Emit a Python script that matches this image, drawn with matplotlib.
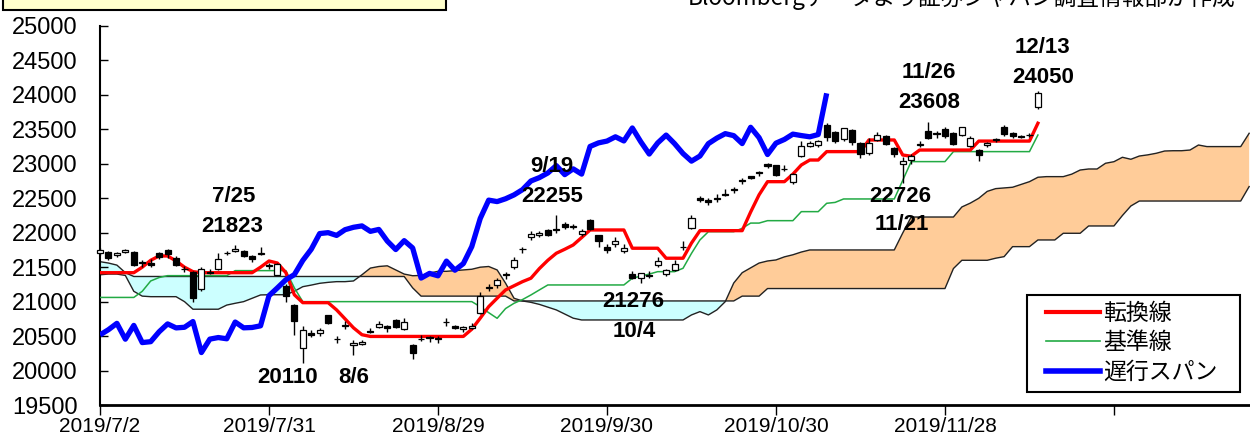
import matplotlib
matplotlib.use('Agg')
import matplotlib.pyplot as plt
import numpy as np
from matplotlib.patches import Rectangle
from matplotlib.lines import Line2D

plt.rcParams['font.family'] = ['Liberation Sans', 'Noto Sans CJK JP', 'DejaVu Sans']

# 日経平均 日足（2019/7/2〜2019/12/13、営業日インデックス 0〜111）
opens = [21700, 21720, 21680, 21720, 21720, 21580, 21560, 21700, 21750, 21640,
         21480, 21430, 21180, 21430, 21480, 21700, 21740, 21740, 21660, 21690,
         21530, 21390, 21230, 20950, 20330, 20540, 20550, 20800, 20460, 20640,
         20370, 20380, 20580, 20630, 20640, 20740, 20600, 20370, 20460, 20480,
         20470, 20700, 20640, 20600, 20620, 20840, 21210, 21240, 21400, 21500,
         21760, 21940, 21960, 22040, 22060, 22120, 22090, 21980, 22180, 21960,
         21790, 21840, 21740, 21400, 21340, 21390, 21530, 21400, 21460, 21800,
         22070, 22500, 22480, 22500, 22560, 22640, 22760, 22820, 22880, 23000,
         22980, 22930, 22740, 23120, 23260, 23280, 23560, 23460, 23360, 23490,
         23300, 23160, 23350, 23400, 23230, 23000, 23050, 23270, 23480, 23450,
         23500, 23450, 23420, 23260, 23200, 23280, 23340, 23540, 23440, 23400,
         23420, 23830]
highs = [21784, 21730, 21720, 21760, 21730, 21600, 21620, 21720, 21760, 21660,
         21520, 21440, 21500, 21470, 21700, 21730, 21823, 21750, 21680, 21790,
         21560, 21560, 21250, 20960, 20650, 20590, 20620, 20810, 20500, 20720,
         20450, 20440, 20620, 20720, 20660, 20750, 20760, 20390, 20520, 20500,
         20500, 20760, 20660, 20640, 20690, 21140, 21250, 21350, 21430, 21650,
         21800, 22020, 22020, 22060, 22255, 22150, 22130, 22050, 22200, 21970,
         21830, 21940, 21830, 21450, 21420, 21450, 21650, 21470, 21610, 21880,
         22260, 22530, 22500, 22560, 22640, 22660, 22800, 22830, 22900, 23010,
         22990, 22980, 22870, 23330, 23330, 23340, 23591, 23480, 23520, 23500,
         23320, 23380, 23460, 23420, 23250, 23100, 23140, 23330, 23608, 23470,
         23540, 23460, 23540, 23400, 23220, 23320, 23370, 23560, 23460, 23420,
         23440, 24050]
lows = [21680, 21600, 21650, 21700, 21510, 21500, 21500, 21620, 21640, 21510,
        21430, 21000, 21160, 21400, 21460, 21680, 21720, 21650, 21580, 21680,
        21480, 21380, 21000, 20514, 20110, 20480, 20500, 20680, 20400, 20600,
        20230, 20370, 20540, 20620, 20560, 20620, 20590, 20173, 20430, 20420,
        20400, 20650, 20600, 20560, 20600, 20820, 21150, 21200, 21330, 21480,
        21700, 21900, 21940, 21950, 22000, 22050, 22050, 21950, 22040, 21800,
        21700, 21800, 21700, 21330, 21276, 21340, 21500, 21370, 21440, 21750,
        22060, 22440, 22400, 22450, 22530, 22580, 22700, 22780, 22820, 22940,
        22830, 22900, 22710, 23100, 23240, 23250, 23330, 23300, 23330, 23280,
        23085, 23130, 23330, 23270, 23100, 22726, 23000, 23250, 23360, 23380,
        23380, 23270, 23410, 23240, 23044, 23250, 23310, 23400, 23380, 23370,
        23390, 23800]
closes = [21754, 21638, 21702, 21746, 21534, 21565, 21533, 21643, 21686, 21535,
          21469, 21046, 21467, 21417, 21621, 21710, 21757, 21658, 21617, 21709,
          21522, 21541, 21087, 20720, 20585, 20517, 20593, 20685, 20455, 20655,
          20406, 20419, 20563, 20677, 20619, 20628, 20711, 20261, 20456, 20479,
          20461, 20704, 20620, 20625, 20649, 21086, 21200, 21318, 21392, 21598,
          21760, 21988, 22001, 21961, 22044, 22079, 22099, 22020, 22048, 21879,
          21756, 21885, 21779, 21342, 21410, 21375, 21588, 21456, 21552, 21799,
          22207, 22473, 22452, 22493, 22549, 22625, 22751, 22800, 22867, 22974,
          22843, 22927, 22851, 23252, 23304, 23330, 23392, 23332, 23520, 23320,
          23142, 23303, 23417, 23293, 23149, 23039, 23113, 23293, 23373, 23438,
          23409, 23294, 23530, 23380, 23135, 23300, 23354, 23431, 23410, 23392,
          23425, 24023]

# 転換線・基準線（0〜111）
tenkan = [21420] * 5 + [21500, 21600, 21663, 21663, 21590, 21500, 21435] + [21420] * 7 + \
         [21500, 21590, 21560, 21420, 21100] + [20985] * 4 + [20880, 20750, 20620, 20520] + \
         [20495] * 12 + [20600, 20760, 20927, 21050, 21170, 21230, 21290, 21340, 21480,
                         21600, 21702, 21760, 21822, 21930] + \
         [22040] * 5 + [21775] * 4 + [21630] * 3 + [21850] + [22030] * 6 + [22300, 22550] + \
         [22741] * 3 + [22850, 22983] + [23055] * 2 + [23177] * 5 + [23346] * 4 + \
         [23128, 23110] + [23200] * 7 + [23330] * 7 + [23589]
kijun = [21061] * 5 + [21150, 21300, 21350] + [21377] * 8 + [21450] * 7 + [21200] + \
        [21000] * 21 + [20927, 20840, 20758, 20900, 20976, 21030, 21097, 21170] + \
        [21242] * 10 + [21340, 21370, 21400] + [21435] * 3 + [21484, 21700, 21895] + \
        [22015] * 4 + [22064] + [22140] * 2 + [22175] * 4 + [22306] * 3 + [22427, 22440] + \
        [22490] * 7 + [22760] + [23032] * 5 + [23177] * 10 + [23418]

# 先行スパン（0〜136）
span_a = [21390, 21400, 21400, 21380, 21150, 21080, 21072, 21072, 21072, 21072,
          21000, 20890, 20890, 20890, 20890, 20950, 20976, 21000, 21048, 21097,
          21100, 21100, 21100, 21150, 21217, 21240, 21266, 21280, 21290, 21290,
          21300, 21390, 21487, 21510, 21520, 21460, 21400, 21376, 21380, 21414,
          21440, 21440, 21450, 21460, 21470, 21500, 21510, 21460, 21267, 21049,
          21010, 20990, 20960, 20920, 20880, 20820, 20760] + [20734] * 13 + \
         [20807, 20855, 20807, 20880, 21000, 21270, 21420, 21490, 21560, 21590,
          21605, 21650, 21680, 21720] + [21750] * 11 + [21996] + [22228] * 6 + \
         [22374, 22430, 22500, 22600, 22640, 22650, 22660, 22700, 22741, 22805,
          22814, 22814, 22814, 22850, 22910, 22925, 22925, 23008, 23031, 23095,
          23066, 23113, 23130, 23153, 23186, 23190, 23190, 23200, 23273] + \
         [23250] * 5 + [23443]
span_b = [21580, 21560, 21530, 21420] + [21365] * 33 + [21200] + [21080] * 11 + \
         [21010] * 27 + [21080] * 3 + [21190] * 22 + [21480] + [21600] * 4 + \
         [21630, 21653] + [21798] * 3 + [21895] * 3 + [21992] * 3 + [22098] * 4 + \
         [22250, 22388] + [22460] * 13 + [22670]

chikou_shift = 25

tick_pos = [0, 20, 40, 60, 80, 100, 120]
tick_labels = ['2019/7/2', '2019/7/31', '2019/8/29', '2019/9/30', '2019/10/30', '2019/11/28', '']

# 注記（高値・安値）
ann_idx = [16, 24, 54, 64, 95, 98, 111]
ann_kind = ['high', 'low', 'high', 'low', 'low', 'high', 'high']
ann_date = ['7/25', '8/6', '9/19', '10/4', '11/21', '11/26', '12/13']
# (値ラベルのオフセット, 日付ラベルのオフセット) [px]
ann_offsets = [((-3, 18), (-2, 48)),
               ((-15, -15), (51, -15)),
               ((-4, 19), (-4, 49)),
               ((-8, -19), (-7, -49)),
               ((-2, -14), (-1, -42)),
               ((1, 19), (1, 49)),
               ((5, 14), (5, 44))]

o = np.array(opens, float)
h = np.array(highs, float)
l = np.array(lows, float)
c = np.array(closes, float)
x = np.arange(len(c))
sa = np.array(span_a, float)
sb = np.array(span_b, float)
xs = np.arange(len(sa))

W, H = 1250, 437
fig = plt.figure(figsize=(12.5, 4.37), dpi=100)
ax = fig.add_axes([100 / W, 32 / H, 1150 / W, 379 / H])

# 雲
ax.fill_between(xs, sa, sb, where=sb >= sa, interpolate=True, color='#CCFFFF', lw=0, zorder=1)
ax.fill_between(xs, sa, sb, where=sa > sb, interpolate=True, color='#FFCC99', lw=0, zorder=1)
ax.plot(xs, sa, color='#222222', lw=1.0, zorder=2)
ax.plot(xs, sb, color='#222222', lw=1.0, zorder=2)

# 基準線・転換線・遅行スパン
ax.plot(x, kijun, color='#22AA44', lw=1.1, zorder=3)
ax.plot(x, tenkan, color='#FF0000', lw=2.4, zorder=3)
ax.plot(x[:len(c) - chikou_shift], c[chikou_shift:], color='#0000FF', lw=3.8,
        solid_capstyle='butt', zorder=3)

# ローソク足
up = c >= o
ax.vlines(x, l, h, color='black', lw=1.0, zorder=4, clip_on=False)
ax.bar(x, np.abs(c - o), bottom=np.minimum(o, c), width=0.72,
       color=np.where(up, 'white', 'black'), edgecolor='black', linewidth=0.9,
       zorder=5, clip_on=False)

# 注記
for i, kind, dlab, (voff, doff) in zip(ann_idx, ann_kind, ann_date, ann_offsets):
    yv = h[i] if kind == 'high' else l[i]
    for txt, off in ((f'{yv:.0f}', voff), (dlab, doff)):
        ax.annotate(txt, (i, yv), xytext=(off[0] * 0.72, off[1] * 0.72),
                    textcoords='offset points', ha='center', va='center',
                    fontsize=16, fontweight='bold', zorder=6)

ax.set_xlim(0, 136.1)
ax.set_ylim(19500, 25000)
ax.set_yticks(np.arange(19500, 25001, 500))
ax.set_xticks(tick_pos)
ax.set_xticklabels(tick_labels)
ax.tick_params(axis='y', direction='in', length=6, width=1, pad=16, labelsize=17)
ax.tick_params(axis='x', direction='out', length=7, width=1, pad=2, labelsize=15)
for s in ['top', 'right']:
    ax.spines[s].set_visible(False)
ax.spines['left'].set_linewidth(1.5)
ax.spines['bottom'].set_linewidth(2)

# 凡例（枠は別に描く）
def to_ax(px, py):
    return (px - 100) / 1150, (405 - py) / 379

bx0, by0 = to_ax(1027, 392)
bx1, by1 = to_ax(1240, 295)
ax.add_patch(Rectangle((bx0, by0), bx1 - bx0, by1 - by0, transform=ax.transAxes,
                       facecolor='white', edgecolor='black', lw=1.5, zorder=7,
                       clip_on=False))
handles = [Line2D([], [], color='#FF0000', lw=3),
           Line2D([], [], color='#22AA44', lw=1.2),
           Line2D([], [], color='#0000FF', lw=4)]
leg = ax.legend(handles, ['転換線', '基準線', '遅行スパン'], loc='upper left',
                bbox_to_anchor=to_ax(1046, 302), borderaxespad=0, frameon=False,
                handlelength=2.35, handletextpad=0.15, labelspacing=0.28, borderpad=0,
                prop={'family': ['Noto Sans CJK JP'], 'size': 16.5})
leg.set_zorder(8)

# 上部の枠と出所
fig.add_artist(Rectangle((3 / W, 1 - 10 / H), 443 / W, 30 / H,
                         transform=fig.transFigure, facecolor='#FFFFCC',
                         edgecolor='black', lw=1.5))
fig.text(1236 / W, 1 + 2 / H, 'Bloombergデータより証券ジャパン調査情報部が作成',
         ha='right', va='center', fontsize=16.3, family=['Noto Sans CJK JP'])

fig.savefig('out.png', dpi=100)
